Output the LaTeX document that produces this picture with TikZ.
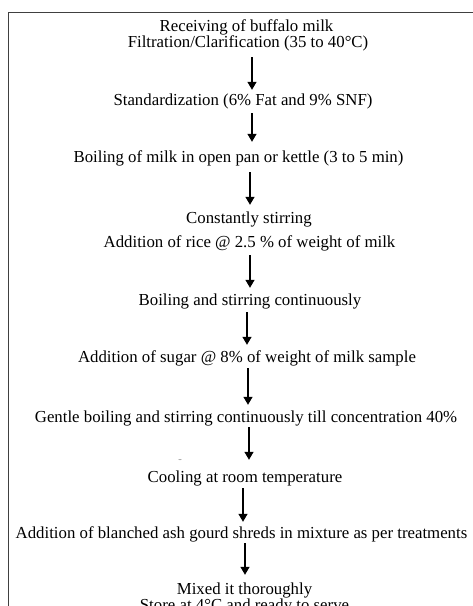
\documentclass[tikz,border=0pt]{standalone}
\usepackage{fontspec}
\setmainfont{Liberation Serif}
\usetikzlibrary{arrows.meta}
\begin{document}
\begin{tikzpicture}[x=1pt,y=-1pt,
  txt/.style={inner sep=0pt, text height=11pt, text depth=4pt, font=\fontsize{16.8}{16.8}\selectfont},
  arr/.style={line width=1.3pt, -{Triangle[width=9pt,length=8pt]}},
  rule/.style={line width=1pt, draw=black!75}]
\useasboundingbox (0,0) rectangle (473,606);
\clip (0,0) rectangle (473,606);
\draw[rule] (473,12.5) -- (8.3,12.5) -- (8.3,606);
\begin{scope}[yshift=-1.5pt]
\node[txt] (r1) at (246.5,26) {Receiving of buffalo milk};
\node[txt] (r2) at (248,42) {Filtration/Clarification (35 to 40\textdegree C)};
\node[txt] (s) at (243,100) {Standardization (6\% Fat and 9\% SNF)};
\node[txt] (b) at (238.5,157) {Boiling of milk in open pan or kettle (3 to 5 min)};
\node[txt] (c1) at (249,218) {Constantly stirring};
\node[txt] (c2) at (249.5,242) {Addition of rice @ 2.5 \% of weight of milk};
\node[txt] (bs) at (250,300) {Boiling and stirring continuously};
\node[txt] (su) at (247,357) {Addition of sugar @ 8\% of weight of milk sample};
\node[txt] (g) at (246,417) {Gentle boiling and stirring continuously till concentration 40\%};
\node[inner sep=0pt, font=\fontsize{7}{7}\selectfont] (dots) at (180,458.5) {..};
\node[txt] (co) at (245,477) {Cooling at room temperature};
\node[txt] (a) at (241.5,533) {Addition of blanched ash gourd shreds in mixture as per treatments};
\node[txt] (m1) at (244.5,589.5) {Mixed it thoroughly};
\node[txt] (m2) at (244.5,605.5) {Store at 4°C and ready to serve};
\end{scope}
\draw[arr] ([xshift=4pt,yshift=-6pt]r2.south) -- ([xshift=4pt,yshift=4pt]r2.south |- s.north);
\draw[arr] ([xshift=9pt,yshift=-4pt]s.south) -- ([xshift=9pt,yshift=9pt]s.south |- b.north);
\draw[arr] ([xshift=11.5pt,yshift=-6pt]b.south) -- ([xshift=11.5pt,yshift=7pt]b.south |- c1.north);
\draw[arr] ([xshift=0.5pt,yshift=-4pt]c2.south) -- ([xshift=0.5pt,yshift=6pt]c2.south |- bs.north);
\draw[arr] ([xshift=-3pt,yshift=-3pt]bs.south) -- ([xshift=-3pt,yshift=6pt]bs.south |- su.north);
\draw[arr] ([xshift=1pt,yshift=-2pt]su.south) -- ([xshift=1pt,yshift=6pt]su.south |- g.north);
\draw[arr] ([xshift=3pt,yshift=-1pt]g.south) -- ([xshift=3pt,yshift=11pt]g.south |- co.north);
\draw[arr] ([xshift=-2pt,yshift=-2pt]co.south) -- ([xshift=-2pt,yshift=5pt]co.south |- a.north);
\draw[arr] ([xshift=3.5pt,yshift=-1pt]a.south) -- ([xshift=3.5pt,yshift=8.5pt]a.south |- m1.north);
\end{tikzpicture}
\end{document}
